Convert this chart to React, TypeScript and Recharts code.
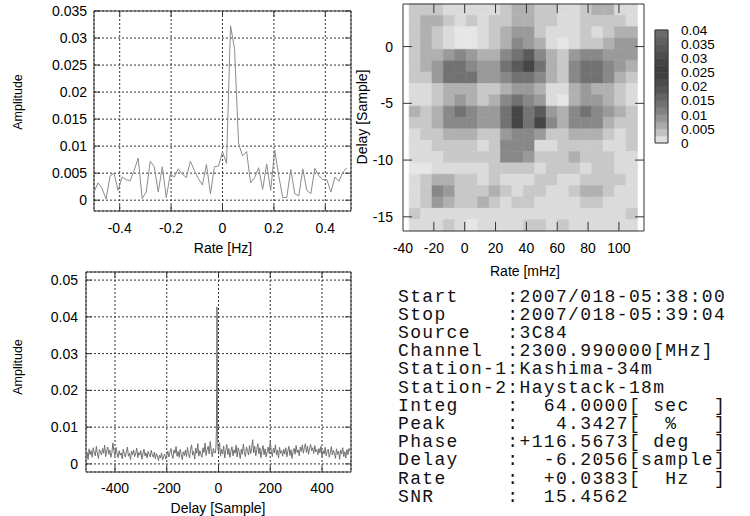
import React from 'react';
import {
  LineChart,
  Line,
  XAxis,
  YAxis,
  CartesianGrid,
  ReferenceArea,
  ReferenceLine,
  ComposedChart,
  Scatter,
} from 'recharts';

const SANS = '"Liberation Sans", Arial, Helvetica, sans-serif';
const MONO = '"Liberation Mono", "DejaVu Sans Mono", monospace';

// ---------------- Rate spectrum (top-left) ----------------
const rateFirst = -0.5;
const rateStepHz = 1 / 64;
const rateAmps = [
  0.0015, 0.0032, 0.0022, 0.0002, 0.0045, 0.005, 0.0018, 0.0043, 0.0038, 0.0036,
  0.0055, 0.0078, 0.0003, 0.0015, 0.0072, 0.0062, 0.0015, 0.0062, 0.0005, 0.0048,
  0.0043, 0.0058, 0.0048, 0.0042, 0.0072, 0.0055, 0.004, 0.0028, 0.0066, 0.0012,
  0.0062, 0.0063, 0.009, 0.0068, 0.0323, 0.028, 0.0105, 0.0082, 0.009, 0.0032,
  0.0042, 0.006, 0.002, 0.0067, 0.0018, 0.0093, 0.0045, 0.0005, 0.0005, 0.0057,
  0.0012, 0.0008, 0.0058, 0.0018, 0.0012, 0.0059, 0.0045, 0.0038, 0.0038, 0.0015,
  0.0043, 0.0035, 0.0052, 0.006,
];
const rateTicks = [-0.4, -0.2, 0, 0.2, 0.4];
const rateAmpTicks = [0, 0.005, 0.01, 0.015, 0.02, 0.025, 0.03, 0.035];

// ---------------- Delay spectrum (bottom-left) ----------------
const delayFirst = -512;
const delayStep = 4;
const delayNoise = [
  0.002, 0.0032, 0.0012, 0.0041, 0.0025, 0.0036, 0.0018, 0.0044, 0.003, 0.0022, 0.0048, 0.0027, 0.0015, 0.0039, 0.0033, 0.0024,
  0.0042, 0.0029, 0.0051, 0.002, 0.0035, 0.0046, 0.0026, 0.0038, 0.0018, 0.0031, 0.0057, 0.0034, 0.0022, 0.0045, 0.0028, 0.0017,
  0.0036, 0.0024, 0.003, 0.0014, 0.004, 0.0027, 0.0019, 0.0033, 0.0046, 0.0021, 0.0029, 0.0012, 0.0035, 0.0025, 0.0038, 0.002,
  0.0028, 0.0043, 0.0017, 0.0031, 0.0024, 0.0036, 0.0013, 0.0027, 0.004, 0.0022, 0.003, 0.0016, 0.0034, 0.0026, 0.0019, 0.0037,
  0.0025, 0.0018, 0.0032, 0.0014, 0.0028, 0.0021, 0.0009, 0.0024, 0.0016, 0.003, 0.0011, 0.002, 0.0027, 0.0013, 0.0022, 0.0035,
  0.0019, 0.0031, 0.0042, 0.0024, 0.0015, 0.0038, 0.0029, 0.0047, 0.0021, 0.0034, 0.0018, 0.004, 0.0026, 0.0012, 0.0033, 0.0023,
  0.0037, 0.002, 0.0045, 0.0028, 0.0016, 0.0039, 0.0052, 0.0024, 0.0034, 0.0013, 0.0043, 0.0029, 0.0055, 0.0021, 0.0036, 0.0026,
  0.0018, 0.0044, 0.0031, 0.0057, 0.0023, 0.0039, 0.0048, 0.0027, 0.0061, 0.0035, 0.0019, 0.0042, 0.003, 0.0038, 0.006, 0.005,
  0.0032, 0.0058, 0.0021, 0.004, 0.0027, 0.0049, 0.0016, 0.0036, 0.0053, 0.0025, 0.0042, 0.0018, 0.0034, 0.0047, 0.0022, 0.0038,
  0.0029, 0.0051, 0.0019, 0.0044, 0.0033, 0.0015, 0.004, 0.0026, 0.0054, 0.0031, 0.002, 0.0046, 0.0037, 0.0024, 0.005, 0.0028,
  0.0041, 0.0066, 0.003, 0.0048, 0.0022, 0.0039, 0.0055, 0.0027, 0.0044, 0.0017, 0.0036, 0.005, 0.0025, 0.0041, 0.0019, 0.0033,
  0.0046, 0.0028, 0.0061, 0.0035, 0.002, 0.0043, 0.003, 0.0052, 0.0024, 0.0038, 0.0016, 0.0045, 0.0029, 0.0036, 0.0021, 0.004,
  0.0027, 0.0044, 0.0019, 0.0035, 0.0048, 0.0023, 0.0039, 0.0015, 0.0033, 0.0042, 0.0026, 0.005, 0.0031, 0.0038, 0.0022, 0.0046,
  0.0034, 0.0052, 0.0029, 0.0045, 0.0055, 0.0031, 0.0048, 0.0026, 0.0041, 0.0053, 0.0036, 0.0044, 0.0028, 0.005, 0.0033, 0.0039,
  0.0025, 0.0042, 0.003, 0.0048, 0.0019, 0.0036, 0.0027, 0.0045, 0.0022, 0.0034, 0.004, 0.0018, 0.0031, 0.0047, 0.0024, 0.0037,
  0.0029, 0.0015, 0.0041, 0.0026, 0.0035, 0.0012, 0.0038, 0.0027, 0.0044, 0.002, 0.0033, 0.0016, 0.0039, 0.0025, 0.0042, 0.0034,
];
const peakDelays = [-12, -10, -9, -8, -7, -6, -5, -4, -3, -2];
const peakAmps = [0.003, 0.0045, 0.0062, 0.0095, 0.024, 0.0427, 0.038, 0.01, 0.0055, 0.004];
const delayTicks = [-400, -200, 0, 200, 400];
const delayAmpTicks = [0, 0.01, 0.02, 0.03, 0.04, 0.05];

// ---------------- Delay-rate map (top-right) ----------------
const mapRates = [
  -32.3, -24.9, -17.5, -10.1, -2.7, 4.7, 12.1, 19.5, 26.9, 34.3,
  41.7, 49.1, 56.5, 63.9, 71.3, 78.7, 86.1, 93.5, 100.9, 108.3,
];
const mapDelays = [
  3.25, 2.25, 1.25, 0.25, -0.75, -1.75, -2.75, -3.75, -4.75, -5.75,
  -6.75, -7.75, -8.75, -9.75, -10.75, -11.75, -12.75, -13.75, -14.75, -15.75,
];
const mapRows = [
  [0.0032, 0.0032, 0.0032, 0.0015, 0.0015, 0.0015, 0.0015, 0.0015, 0.0032, 0.0055, 0.0055, 0.0032, 0.0032, 0.0015, 0.0015, 0.0032, 0.0055, 0.0055, 0.0015, 0.0015],
  [0.0032, 0.0055, 0.0055, 0.0032, 0.0015, 0.0032, 0.0015, 0.0032, 0.0032, 0.0055, 0.0055, 0.0032, 0.0032, 0.0015, 0.0015, 0.0032, 0.0032, 0.0032, 0.0032, 0.0015],
  [0.0032, 0.0055, 0.0032, 0.0015, 0.0005, 0.0005, 0.0015, 0.0032, 0.0055, 0.0081, 0.0081, 0.0032, 0.0015, 0.0015, 0.0015, 0.0032, 0.0015, 0.0032, 0.0055, 0.0055],
  [0.0032, 0.0055, 0.0032, 0.0015, 0.0005, 0.0005, 0.0015, 0.0032, 0.0055, 0.0103, 0.0081, 0.0055, 0.0015, 0.0005, 0.0015, 0.0032, 0.0032, 0.0055, 0.0081, 0.0081],
  [0.0032, 0.0055, 0.0055, 0.0081, 0.0103, 0.0081, 0.0055, 0.0055, 0.0103, 0.0138, 0.018, 0.0103, 0.0055, 0.0032, 0.0081, 0.0103, 0.0103, 0.0081, 0.0081, 0.0081],
  [0.0032, 0.0055, 0.0081, 0.0138, 0.0138, 0.0103, 0.0081, 0.0081, 0.0138, 0.018, 0.0228, 0.0138, 0.0055, 0.0032, 0.0103, 0.0138, 0.0138, 0.0103, 0.0081, 0.0055],
  [0.0032, 0.0032, 0.0081, 0.0138, 0.0138, 0.0138, 0.0081, 0.0081, 0.0103, 0.0138, 0.0138, 0.0103, 0.0055, 0.0032, 0.0103, 0.0138, 0.0138, 0.0103, 0.0055, 0.0032],
  [0.0015, 0.0015, 0.0032, 0.0055, 0.0055, 0.0055, 0.0032, 0.0032, 0.0055, 0.0081, 0.0081, 0.0055, 0.0015, 0.0015, 0.0055, 0.0081, 0.0055, 0.0055, 0.0032, 0.0015],
  [0.0015, 0.0015, 0.0032, 0.0055, 0.0081, 0.0055, 0.0032, 0.0055, 0.0103, 0.0138, 0.0103, 0.0081, 0.0015, 0.0005, 0.0055, 0.0081, 0.0081, 0.0055, 0.0032, 0.0015],
  [0.0055, 0.0032, 0.0055, 0.0103, 0.0138, 0.0103, 0.0081, 0.0081, 0.0138, 0.0228, 0.043, 0.018, 0.0081, 0.0055, 0.0103, 0.0138, 0.0103, 0.0081, 0.0055, 0.0032],
  [0.0032, 0.0032, 0.0055, 0.0103, 0.0103, 0.0103, 0.0081, 0.0081, 0.0138, 0.0228, 0.0138, 0.0228, 0.0103, 0.0055, 0.0103, 0.0103, 0.0103, 0.0055, 0.0032, 0.0032],
  [0.0015, 0.0032, 0.0032, 0.0055, 0.0055, 0.0055, 0.0032, 0.0032, 0.0081, 0.0103, 0.0103, 0.0081, 0.0032, 0.0032, 0.0055, 0.0055, 0.0055, 0.0032, 0.0015, 0.0032],
  [0.0015, 0.0015, 0.0032, 0.0032, 0.0032, 0.0032, 0.0015, 0.0032, 0.0103, 0.0103, 0.0103, 0.0015, 0.0015, 0.0032, 0.0032, 0.0032, 0.0032, 0.0015, 0.0015, 0.0032],
  [0.0015, 0.0015, 0.0015, 0.0032, 0.0032, 0.0032, 0.0032, 0.0032, 0.0103, 0.0103, 0.0081, 0.0032, 0.0032, 0.0032, 0.0055, 0.0032, 0.0032, 0.0032, 0.0015, 0.0015],
  [0.0005, 0.0005, 0.0015, 0.0015, 0.0015, 0.0015, 0.0015, 0.0032, 0.0032, 0.0032, 0.0032, 0.0015, 0.0032, 0.0032, 0.0032, 0.0015, 0.0032, 0.0032, 0.0015, 0.0015],
  [0.0015, 0.0032, 0.0055, 0.0055, 0.0032, 0.0032, 0.0015, 0.0032, 0.0015, 0.0015, 0.0015, 0.0032, 0.0032, 0.0015, 0.0015, 0.0032, 0.0032, 0.0032, 0.0032, 0.0015],
  [0.0015, 0.0032, 0.0103, 0.0081, 0.0032, 0.0032, 0.0032, 0.0055, 0.0032, 0.0015, 0.0032, 0.0032, 0.0015, 0.0015, 0.0032, 0.0055, 0.0055, 0.0032, 0.0015, 0.0015],
  [0.0015, 0.0032, 0.0081, 0.0055, 0.0032, 0.0032, 0.0055, 0.0032, 0.0015, 0.0032, 0.0032, 0.0015, 0.0015, 0.0015, 0.0015, 0.0032, 0.0032, 0.0015, 0.0015, 0.0015],
  [0.0032, 0.0015, 0.0015, 0.0015, 0.0015, 0.0015, 0.0015, 0.0015, 0.0015, 0.0015, 0.0015, 0.0015, 0.0015, 0.0015, 0.0015, 0.0015, 0.0015, 0.0015, 0.0015, 0.0032],
  [0.0015, 0.0015, 0.0015, 0.0032, 0.0015, 0.0005, 0.0015, 0.0015, 0.0015, 0.0015, 0.0032, 0.0032, 0.0015, 0.0032, 0.0015, 0.0015, 0.0015, 0.0015, 0.0015, 0.0015],
];
const mapRateTicks = [-40, -20, 0, 20, 40, 60, 80, 100];
const mapDelayTicks = [0, -5, -10, -15];
const cbarTicks = [0, 0.005, 0.01, 0.015, 0.02, 0.025, 0.03, 0.035, 0.04];
const cbarBands = [0, 0.0025, 0.005, 0.0075, 0.01, 0.0125, 0.015, 0.0175, 0.02, 0.0225, 0.025, 0.0275, 0.03, 0.0325, 0.035, 0.0375, 0.04];
// palette: amplitude -> gray level
const paletteStops: [number, number][] = [
  [0, 236], [0.005, 180], [0.01, 138], [0.015, 106], [0.02, 80], [0.025, 60],
  [0.03, 72], [0.035, 92], [0.04, 112], [0.05, 124],
];

// ---------------- Fit summary text ----------------
const summaryLines = [
  'Start    :2007/018-05:38:00',
  'Stop     :2007/018-05:39:04',
  'Source   :3C84',
  'Channel  :2300.990000[MHz]',
  'Station-1:Kashima-34m',
  'Station-2:Haystack-18m',
  'Integ    :  64.0000[ sec  ]',
  'Peak     :   4.3427[  %   ]',
  'Phase    :+116.5673[ deg  ]',
  'Delay    :  -6.2056[sample]',
  'Rate     :  +0.0383[  Hz  ]',
  'SNR      :  15.4562',
];

// ---------------- helpers ----------------
function gray(a: number): string {
  let g = paletteStops[paletteStops.length - 1][1];
  for (let i = 0; i < paletteStops.length - 1; i++) {
    const [a0, g0] = paletteStops[i];
    const [a1, g1] = paletteStops[i + 1];
    if (a <= a1) {
      const t = Math.max(0, (a - a0) / (a1 - a0));
      g = g0 + (g1 - g0) * t;
      break;
    }
  }
  const v = Math.round(g);
  return `rgb(${v},${v},${v})`;
}

const tickStyle = { fontSize: 14, fontFamily: SANS, fill: '#000' };
const cbarTickStyle = { fontSize: 13.5, fontFamily: SANS, fill: '#000' };
const FRAME = '#333';

function borderTicks(
  prefix: string,
  xTicks: number[],
  yTicks: number[],
  xDom: [number, number],
  yDom: [number, number],
  lenX: number,
  lenY: number,
) {
  const out: React.ReactNode[] = [];
  xTicks.forEach((t, i) => {
    out.push(
      <ReferenceLine key={`${prefix}xb${i}`} segment={[{ x: t, y: yDom[0] }, { x: t, y: yDom[0] + lenY }]} stroke={FRAME} ifOverflow="visible" />,
      <ReferenceLine key={`${prefix}xt${i}`} segment={[{ x: t, y: yDom[1] }, { x: t, y: yDom[1] - lenY }]} stroke={FRAME} ifOverflow="visible" />,
    );
  });
  yTicks.forEach((t, i) => {
    out.push(
      <ReferenceLine key={`${prefix}yl${i}`} segment={[{ x: xDom[0], y: t }, { x: xDom[0] + lenX, y: t }]} stroke={FRAME} ifOverflow="visible" />,
      <ReferenceLine key={`${prefix}yr${i}`} segment={[{ x: xDom[1], y: t }, { x: xDom[1] - lenX, y: t }]} stroke={FRAME} ifOverflow="visible" />,
    );
  });
  return out;
}

function Title({ x, y, text, rotate, size = 14 }: { x: number; y: number; text: string; rotate?: boolean; size?: number }) {
  return (
    <div
      style={{
        position: 'absolute',
        left: x,
        top: y,
        transform: `translate(-50%, -50%)${rotate ? ' rotate(-90deg)' : ''}`,
        fontFamily: SANS,
        fontSize: size,
        lineHeight: 1,
        whiteSpace: 'nowrap',
        color: '#000',
      }}
    >
      {text}
    </div>
  );
}

export default function App() {
  const rateData = rateAmps.map((amp, i) => ({ rate: rateFirst + i * rateStepHz, amp }));

  const noisePts = delayNoise
    .map((amp, i) => ({ delay: delayFirst + i * delayStep, amp }))
    .filter((p) => p.delay < -12 || p.delay > -2);
  const delayData = [...noisePts, ...peakDelays.map((d, i) => ({ delay: d, amp: peakAmps[i] }))].sort(
    (a, b) => a.delay - b.delay,
  );

  const cells = mapRows.flatMap((row, i) =>
    row.map((amp, j) => ({ rate: mapRates[j], delay: mapDelays[i], amp })),
  );
  const cellHalfW = 3.7;
  const cellHalfH = 0.5;

  const rateDom: [number, number] = [-0.5, 0.5];
  const rateAmpDom: [number, number] = [-0.002, 0.035];
  const delayDom: [number, number] = [-512, 512];
  const delayAmpDom: [number, number] = [-0.0022, 0.0522];
  const mapXDom: [number, number] = [-40, 116.25];
  const mapYDom: [number, number] = [-16.25, 3.75];

  const bands = cbarBands.slice(0, -1).map((lo, i) => ({ lo, hi: cbarBands[i + 1] }));

  return (
    <div style={{ position: 'absolute', left: 0, top: 0, width: 750, height: 516, background: '#fff', overflow: 'hidden' }}>
      {/* top-left: amplitude vs rate */}
      <div style={{ position: 'absolute', left: 0, top: 0 }}>
        <LineChart width={360} height={260} data={rateData} margin={{ top: 11, right: 9, bottom: 19, left: 34 }}>
          <CartesianGrid stroke="#333" strokeDasharray="2 2" />
          <XAxis dataKey="rate" type="number" domain={rateDom} ticks={rateTicks} interval={0} allowDataOverflow height={30} tickSize={0} tickMargin={12} axisLine={false} tick={tickStyle} />
          <YAxis type="number" domain={rateAmpDom} ticks={rateAmpTicks} interval={0} allowDataOverflow width={60} tickSize={0} tickMargin={7} axisLine={false} tick={tickStyle} />
          <Line dataKey="amp" stroke="#8c8c8c" strokeWidth={1} dot={false} isAnimationActive={false} />
          {borderTicks('r', rateTicks, rateAmpTicks, rateDom, rateAmpDom, 0.023, 0.0011)}
          <ReferenceArea x1={rateDom[0]} x2={rateDom[1]} y1={rateAmpDom[0]} y2={rateAmpDom[1]} fill="none" stroke={FRAME} strokeWidth={1} ifOverflow="visible" />
        </LineChart>
      </div>
      <Title x={18} y={102} text="Amplitude" rotate size={12.5} />
      <Title x={223} y={248} text="Rate [Hz]" />

      {/* bottom-left: amplitude vs delay */}
      <div style={{ position: 'absolute', left: 0, top: 260 }}>
        <LineChart width={360} height={256} data={delayData} margin={{ top: 12, right: 9, bottom: 14, left: 26 }}>
          <CartesianGrid stroke="#333" strokeDasharray="2 2" />
          <XAxis dataKey="delay" type="number" domain={delayDom} ticks={delayTicks} interval={0} allowDataOverflow height={30} tickSize={0} tickMargin={11} axisLine={false} tick={tickStyle} />
          <YAxis type="number" domain={delayAmpDom} ticks={delayAmpTicks} interval={0} allowDataOverflow width={60} tickSize={0} tickMargin={8} axisLine={false} tick={tickStyle} />
          <Line dataKey="amp" stroke="#707070" strokeWidth={1} dot={false} isAnimationActive={false} />
          {borderTicks('d', delayTicks, delayAmpTicks, delayDom, delayAmpDom, 23, 0.0016)}
          <ReferenceArea x1={delayDom[0]} x2={delayDom[1]} y1={delayAmpDom[0]} y2={delayAmpDom[1]} fill="none" stroke={FRAME} strokeWidth={1} ifOverflow="visible" />
        </LineChart>
      </div>
      <Title x={18} y={367} text="Amplitude" rotate size={12.5} />
      <Title x={218} y={508} text="Delay [Sample]" />

      {/* top-right: delay-rate map */}
      <div style={{ position: 'absolute', left: 350, top: 0 }}>
        <ComposedChart width={300} height={280} data={cells} margin={{ top: 4, right: 6, bottom: 19, left: 13 }}>
          <XAxis dataKey="rate" type="number" domain={mapXDom} ticks={mapRateTicks} interval={0} allowDataOverflow height={30} tickSize={0} tickMargin={12} axisLine={false} tick={tickStyle} />
          <YAxis dataKey="delay" type="number" domain={mapYDom} ticks={mapDelayTicks} interval={0} allowDataOverflow width={40} tickSize={0} tickMargin={10} axisLine={false} tick={tickStyle} />
          {cells.map((c, k) => (
            <ReferenceArea
              key={`c${k}`}
              x1={c.rate - cellHalfW}
              x2={c.rate + cellHalfW}
              y1={c.delay - cellHalfH}
              y2={c.delay + cellHalfH}
              fill={gray(c.amp)}
              fillOpacity={1}
              stroke={gray(c.amp)}
              strokeWidth={0.6}
              ifOverflow="visible"
            />
          ))}
          <Scatter dataKey="delay" shape={() => <g />} isAnimationActive={false} />
          {borderTicks('m', mapRateTicks.slice(1), mapDelayTicks, mapXDom, mapYDom, 5.8, 0.8)}
          <ReferenceArea x1={mapXDom[0]} x2={mapXDom[1]} y1={mapYDom[0]} y2={mapYDom[1]} fill="none" stroke={FRAME} strokeWidth={1} ifOverflow="visible" />
        </ComposedChart>
      </div>
      <Title x={362} y={117} text="Delay [Sample]" rotate />
      <Title x={525} y={271} text="Rate [mHz]" />

      {/* colour bar */}
      <div style={{ position: 'absolute', left: 645, top: 0 }}>
        <ComposedChart width={105} height={160} data={bands} margin={{ top: 30, right: 0, bottom: 17, left: 10 }}>
          <XAxis dataKey="lo" type="number" domain={[0, 1]} hide allowDataOverflow />
          <YAxis orientation="right" type="number" domain={[0, 0.04]} ticks={cbarTicks} interval={0} allowDataOverflow width={82} tickSize={0} tickMargin={13} axisLine={false} tick={cbarTickStyle} />
          {bands.map((b, k) => (
            <ReferenceArea key={`b${k}`} x1={0} x2={1} y1={b.lo} y2={b.hi} fill={gray((b.lo + b.hi) / 2)} fillOpacity={1} stroke={gray((b.lo + b.hi) / 2)} strokeWidth={0.6} ifOverflow="visible" />
          ))}
          <ReferenceArea x1={0} x2={1} y1={0} y2={0.04} fill="none" stroke={FRAME} strokeWidth={1} ifOverflow="visible" />
        </ComposedChart>
      </div>

      {/* fit summary */}
      <svg width={750} height={516} style={{ position: 'absolute', left: 0, top: 0, pointerEvents: 'none' }}>
        {summaryLines.map((line, i) => (
          <text
            key={i}
            x={398}
            y={301.7 + i * 18.18}
            fontFamily={MONO}
            fontSize={18}
            letterSpacing={1.35}
            fill="#111"
            xmlSpace="preserve"
            style={{ whiteSpace: 'pre' }}
          >
            {line}
          </text>
        ))}
      </svg>
    </div>
  );
}
